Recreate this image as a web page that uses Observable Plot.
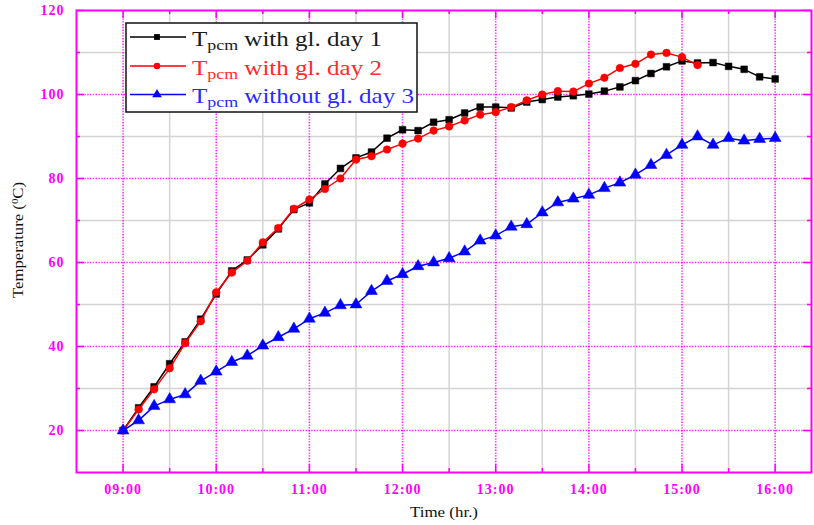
<!DOCTYPE html>
<html>
<head>
<meta charset="utf-8">
<script src="https://cdn.jsdelivr.net/npm/d3@7"></script>
<script src="https://cdn.jsdelivr.net/npm/@observablehq/plot@0.6"></script>
<style>
  html, body { margin: 0; padding: 0; background: white; }
  #chart { width: 814px; height: 525px; }
</style>
</head>
<body>
<div id="chart"></div>
<script>
// ---- data ----
const times = ["09:00","09:10","09:20","09:30","09:40","09:50",
  "10:00","10:10","10:20","10:30","10:40","10:50",
  "11:00","11:10","11:20","11:30","11:40","11:50",
  "12:00","12:10","12:20","12:30","12:40","12:50",
  "13:00","13:10","13:20","13:30","13:40","13:50",
  "14:00","14:10","14:20","14:30","14:40","14:50",
  "15:00","15:10","15:20","15:30","15:40","15:50","16:00"];

const day1 = [20, 25.4, 30.4, 35.9, 41.1, 46.5,
  52.5, 58, 60.6, 64.2, 68, 72.6,
  74.2, 78.7, 82.4, 84.9, 86.3, 89.6,
  91.6, 91.4, 93.4, 94, 95.6, 97,
  97, 96.8, 98.2, 98.8, 99.4, 99.7,
  100.1, 100.8, 101.8, 103.3, 105, 106.6,
  108, 107.5, 107.6, 106.7, 106, 104.2, 103.7];

const day2 = [20, 25, 29.8, 34.8, 40.8, 46,
  52.9, 57.6, 60.4, 64.8, 68.2, 72.8,
  75, 77.5, 80, 84.5, 85.3, 86.9,
  88.3, 89.5, 91.4, 92.4, 93.8, 95.2,
  95.8, 97, 98.6, 100, 100.8, 100.7,
  102.6, 104, 106.3, 107.3, 109.5, 109.9,
  108.9, 107];

const day3 = [20, 22.4, 25.8, 27.4, 28.6, 31.8,
  34, 36.3, 37.8, 40.2, 42.2, 44.2,
  46.6, 48, 49.8, 50, 53.2, 55.6,
  57.2, 59.1, 60, 61, 62.6, 65.2,
  66.4, 68.5, 69.1, 71.9, 74.3, 75.2,
  76.1, 77.7, 79, 80.9, 83.2, 85.6,
  88, 90, 88, 89.6, 89, 89.4, 89.6];

const seriesNames = ["with gl. day 1", "with gl. day 2", "without gl. day 3"];
const seriesColors = ["#000000", "#ff0000", "#0000ff"];
const textColors = ["#1a1a1a", "#ff2a2a", "#2a2aff"];
const seriesSymbols = ["square", "circle", "triangle"];

const xTickLabels = ["09:00","10:00","11:00","12:00","13:00","14:00","15:00","16:00"];
const yTicks = [20, 40, 60, 80, 100, 120];
const yMinor = [30, 50, 70, 90, 110];
const xMinorLabels = ["09:30","10:30","11:30","12:30","13:30","14:30","15:30"];

// ---- helpers ----
const toHour = s => { const [h, m] = s.split(":").map(Number); return h + m / 60; };
const xTicks = xTickLabels.map(toHour);
const xMinor = xMinorLabels.map(toHour);

const table = [];
[day1, day2, day3].forEach((vals, k) => {
  vals.forEach((v, i) => table.push({series: seriesNames[k], t: toHour(times[i]), v}));
});
const bySeries = k => table.filter(d => d.series === seriesNames[k]);

const W = 814, H = 525, mL = 76, mR = 3, mT = 10, mB = 53;
const fw = W - mL - mR, fh = H - mT - mB;
const magenta = "#ff00ff";
const gridGray = "#d4d4d4";

const seriesMarks = [];
[0, 1, 2].forEach(k => {
  const data = bySeries(k);
  seriesMarks.push(Plot.line(data, {x: "t", y: "v", stroke: seriesColors[k], strokeWidth: 1.5}));
  seriesMarks.push(Plot.dot(data, {x: "t", y: "v", fill: seriesColors[k], stroke: seriesColors[k],
    symbol: () => seriesSymbols[k], r: k === 2 ? 4.4 : 3.8, strokeWidth: 0.5}));
});

const chart = Plot.plot({
  width: W, height: H,
  marginLeft: mL, marginRight: mR, marginTop: mT, marginBottom: mB,
  style: {background: "white", fontFamily: "'Liberation Serif', 'Times New Roman', serif", overflow: "visible"},
  x: {domain: [8.5, 16.39]},
  y: {domain: [10, 120]},
  marks: [
    Plot.gridX(xMinor, {stroke: gridGray, strokeOpacity: 1, strokeWidth: 1.5}),
    Plot.gridY(yMinor, {stroke: gridGray, strokeOpacity: 1, strokeWidth: 1.5}),
    Plot.gridX(xTicks, {stroke: magenta, strokeOpacity: 0.85, strokeWidth: 1.6, strokeDasharray: "1.4,1.4"}),
    Plot.gridY(yTicks.filter(d => d < 120), {stroke: magenta, strokeOpacity: 0.85, strokeWidth: 1.6, strokeDasharray: "1.4,1.4"}),
    // inward tick marks
    Plot.ruleX(xTicks, {x: d => d, stroke: magenta, strokeWidth: 1.5, insetTop: fh - 8}),
    Plot.ruleX(xTicks, {x: d => d, stroke: magenta, strokeWidth: 1.5, insetBottom: fh - 8}),
    Plot.ruleX(xMinor, {x: d => d, stroke: magenta, strokeWidth: 1.5, insetTop: fh - 4}),
    Plot.ruleX(xMinor, {x: d => d, stroke: magenta, strokeWidth: 1.5, insetBottom: fh - 4}),
    Plot.ruleY(yTicks, {y: d => d, stroke: magenta, strokeWidth: 1.5, insetRight: fw - 8}),
    Plot.ruleY(yMinor, {y: d => d, stroke: magenta, strokeWidth: 1.5, insetRight: fw - 4}),
    Plot.ruleY(yTicks, {y: d => d, stroke: magenta, strokeWidth: 1.5, insetLeft: fw - 8}),
    Plot.ruleY(yMinor, {y: d => d, stroke: magenta, strokeWidth: 1.5, insetLeft: fw - 4}),
    Plot.frame({stroke: magenta, strokeWidth: 2}),
    Plot.axisX(xTicks, {tickSize: 0, tickPadding: 12, label: null,
      tickFormat: d => xTickLabels[xTicks.indexOf(d)],
      fill: magenta, fontWeight: "bold", fontSize: 14}),
    Plot.axisY(yTicks, {tickSize: 0, tickPadding: 12, label: null,
      fill: magenta, fontWeight: "bold", fontSize: 14}),
    ...seriesMarks
  ]
});

document.getElementById("chart").appendChild(chart);

// letter spacing on tick labels (reference glyphs are wide)
d3.select(chart).selectAll('g[aria-label="x-axis tick label"] text, g[aria-label="y-axis tick label"] text')
  .style("letter-spacing", "1px");

// ---- axis titles ----
const svg = d3.select(chart);
svg.append("text")
  .attr("x", 444).attr("y", 517)
  .attr("text-anchor", "middle")
  .attr("font-size", 15)
  .attr("fill", "#111")
  .attr("textLength", 68).attr("lengthAdjust", "spacingAndGlyphs")
  .text("Time (hr.)");

const yt = svg.append("text")
  .attr("transform", "translate(23,240) rotate(-90)")
  .attr("text-anchor", "middle")
  .attr("font-size", 14)
  .attr("fill", "#111")
  .attr("textLength", 116).attr("lengthAdjust", "spacingAndGlyphs");
yt.append("tspan").text("Temperature (");
yt.append("tspan").attr("font-size", 9).attr("dy", -5).text("0");
yt.append("tspan").attr("dy", 5).text("C)");

// ---- legend ----
const lg = svg.append("g");
lg.append("rect").attr("x", 126).attr("y", 23).attr("width", 291).attr("height", 89)
  .attr("fill", "white").attr("stroke", "#111").attr("stroke-width", 1.5);
const rows = [37, 66, 94.5];
const textLens = [190, 190, 222];
seriesNames.forEach((name, k) => {
  const y = rows[k];
  lg.append("line").attr("x1", 130).attr("x2", 186).attr("y1", y).attr("y2", y)
    .attr("stroke", seriesColors[k]).attr("stroke-width", 1.5);
  const sym = k === 0 ? d3.symbolSquare : k === 1 ? d3.symbolCircle : d3.symbolTriangle;
  lg.append("path").attr("d", d3.symbol(sym, k === 2 ? 40 : 34)())
    .attr("transform", `translate(157,${y})`).attr("fill", seriesColors[k]);
  const t = lg.append("text").attr("x", 192).attr("y", y + 8.5)
    .attr("text-anchor", "start")
    .attr("fill", textColors[k]).attr("font-size", 21)
    .attr("textLength", textLens[k]).attr("lengthAdjust", "spacingAndGlyphs");
  t.append("tspan").text("T");
  t.append("tspan").attr("font-size", 15).attr("dy", 4).text("pcm");
  t.append("tspan").attr("dy", -4).text(" " + name);
});
</script>
</body>
</html>
